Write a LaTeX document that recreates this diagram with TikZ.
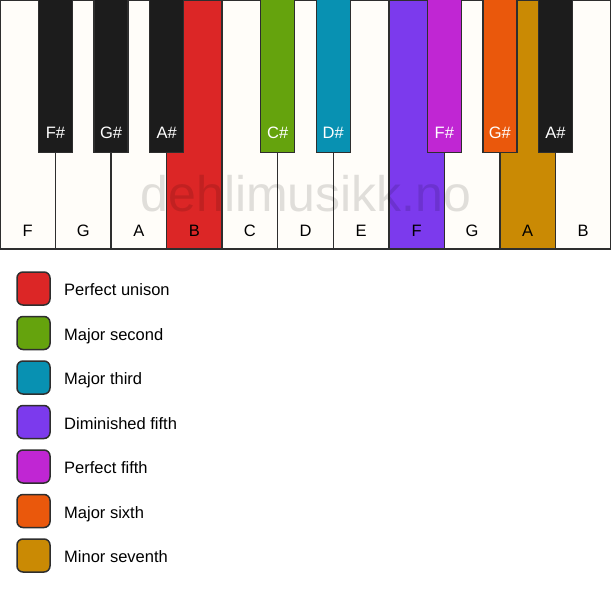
\documentclass[tikz,border=0pt]{standalone}
\usepackage{fontspec}
\setmainfont{Liberation Sans}
\definecolor{wkey}{HTML}{FFFDF9}
\definecolor{kblack}{HTML}{1C1C1C}
\definecolor{kline}{HTML}{2E2E2E}
\definecolor{cred}{HTML}{DC2626}
\definecolor{clime}{HTML}{65A30D}
\definecolor{ccyan}{HTML}{0891B2}
\definecolor{cviolet}{HTML}{7C3AED}
\definecolor{cfuchsia}{HTML}{C026D3}
\definecolor{corange}{HTML}{EA580C}
\definecolor{cyellow}{HTML}{CA8A04}
\begin{document}
\begin{tikzpicture}[x=1pt,y=-1pt,
  keyline/.style={draw=kline, line width=1.5pt},
  wlabel/.style={anchor=base, text=black, font=\fontsize{16.5}{19}\selectfont, inner sep=0pt},
  blabel/.style={anchor=base, text=white, font=\fontsize{16.5}{19}\selectfont, inner sep=0pt},
  swatch/.style={draw=kline, line width=1.5pt, rounded corners=6pt},
  legtext/.style={anchor=base west, text=black, font=\fontsize{16.5}{19}\selectfont, inner sep=0pt}]
\useasboundingbox (0,0) rectangle (611,594);
\fill[white] (0,0) rectangle (611,594);
% white keys
\foreach \n/\c [count=\i from 0] in {F/wkey,G/wkey,A/wkey,B/cred,C/wkey,D/wkey,E/wkey,F/cviolet,G/wkey,A/cyellow,B/wkey} {
  \draw[keyline, fill=\c] ({\i*55.545},0) rectangle ({(\i+1)*55.545},249);
  \node[wlabel] (wl\i) at ({(\i+0.5)*55.545},236) {\n};
}
% black keys
\foreach \b/\n/\c in {1/F/kblack,2/G/kblack,3/A/kblack,5/C/clime,6/D/ccyan,8/F/cfuchsia,9/G/corange,10/A/kblack} {
  \draw[keyline, fill=\c] ({\b*55.545-17},-1) rectangle ({\b*55.545+17},152.5);
  \node[blabel] (bl\b) at ({\b*55.545},139) {\n\#};
}
% watermark
\node[anchor=base, text=black, text opacity=0.12, font=\fontsize{50}{60}\selectfont, inner sep=0pt] (wm) at (306,211) {dehlimusikk.no};
% legend
\foreach \c/\t [count=\i from 0] in {cred/Perfect unison,clime/Major second,ccyan/Major third,cviolet/Diminished fifth,cfuchsia/Perfect fifth,corange/Major sixth,cyellow/Minor seventh} {
  \draw[swatch, fill=\c] (17,{272+\i*44.5}) rectangle (50,{305+\i*44.5});
  \node[legtext] (lt\i) at (64,{295.5+\i*44.5}) {\t};
}
\end{tikzpicture}
\end{document}
